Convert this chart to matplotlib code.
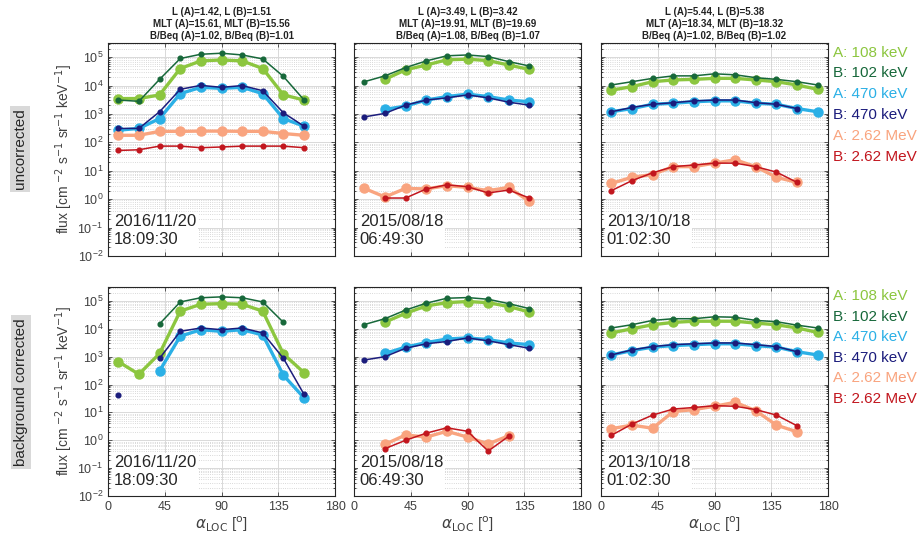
import matplotlib.pyplot as plt
import numpy as np
from matplotlib.ticker import LogLocator, NullFormatter, FixedLocator

plt.rcParams['font.family'] = ['Liberation Sans', 'DejaVu Sans']

nan = np.nan

# pitch angle bin centres (deg)
pa = [8.2, 24.5, 40.9, 57.3, 73.6, 90.0, 106.4, 122.7, 139.1, 155.5, 171.8]

labels = ['A: 108 keV', 'B: 102 keV', 'A: 470 keV', 'B: 470 keV',
          'A: 2.62 MeV', 'B: 2.62 MeV']
colors = ['#8cc63f', '#17683a', '#2bb0e6', '#1b1c7c', '#f9a47f', '#c2161e']

titles = ['L (A)=1.42, L (B)=1.51\nMLT (A)=15.61, MLT (B)=15.56\nB/Beq (A)=1.02, B/Beq (B)=1.01',
          'L (A)=3.49, L (B)=3.42\nMLT (A)=19.91, MLT (B)=19.69\nB/Beq (A)=1.08, B/Beq (B)=1.07',
          'L (A)=5.44, L (B)=5.38\nMLT (A)=18.34, MLT (B)=18.32\nB/Beq (A)=1.02, B/Beq (B)=1.02']
dates = ['2016/11/20\n18:09:30', '2015/08/18\n06:49:30', '2013/10/18\n01:02:30']
row_labels = ['uncorrected', 'background corrected']

# ---- uncorrected ----
unc1_a108 = [3500, 3500, 4700, 4.0e4, 7.4e4, 8.0e4, 7.4e4, 4.0e4, 4700, 3100, nan]
unc1_b102 = [3100, 2800, 1.66e4, 9.0e4, 1.27e5, 1.38e5, 1.2e5, 8.7e4, 2.1e4, 3100, nan]
unc1_a470 = [270, 310, 690, 5200, 8700, 8000, 8700, 5200, 690, 370, nan]
unc1_b470 = [310, 310, 1200, 7400, 1.02e4, 8700, 1.0e4, 6600, 1100, 370, nan]
unc1_a262 = [178, 178, 245, 245, 250, 250, 245, 245, 205, 178, nan]
unc1_b262 = [52, 55, 74, 74, 65, 69, 74, 74, 74, 65, nan]

unc2_a108 = [nan, 1.66e4, 3.6e4, 5.3e4, 8.1e4, 8.5e4, 7.6e4, 5.3e4, 3.7e4, nan, nan]
unc2_b102 = [1.37e4, 2.2e4, 4.3e4, 7.4e4, 1.12e5, 1.2e5, 1.05e5, 7.0e4, 4.9e4, nan, nan]
unc2_a470 = [nan, 1450, 1900, 3100, 4100, 5000, 4100, 3100, 2700, nan, nan]
unc2_b470 = [790, 1050, 2050, 3100, 3700, 4700, 3700, 2600, 2050, nan, nan]
unc2_a262 = [2.4, 1.2, 2.4, 2.3, 3.0, 2.6, 2.0, 2.6, 0.83, nan, nan]
unc2_b262 = [nan, 1.1, 1.1, 2.3, 3.2, 2.75, 1.66, 2.1, 1.1, nan, nan]

unc3_a108 = [6900, 9200, 1.37e4, 1.58e4, 1.66e4, 1.8e4, 1.8e4, 1.58e4, 1.37e4, 1.05e4, 7400]
unc3_b102 = [1.05e4, 1.37e4, 1.8e4, 2.2e4, 2.2e4, 2.6e4, 2.4e4, 1.9e4, 1.66e4, 1.37e4, 1.05e4]
unc3_a470 = [1200, 1550, 2200, 2400, 2700, 2900, 2900, 2400, 2200, 1550, 1200]
unc3_b470 = [1200, 1700, 2200, 2500, 2900, 3100, 3100, 2500, 2200, 1550, nan]
unc3_a262 = [3.6, 5.9, 7.4, 14, 14, 18.6, 24.5, 14, 5.9, 3.9, nan]
unc3_b262 = [2.0, 4.5, 8.5, 14, 16, 18.6, 18.6, 14, 9.0, 3.9, nan]

# ---- background corrected ----
cor1_a108 = [660, 235, 1300, 4.3e4, 7.6e4, 8.0e4, 7.6e4, 4.3e4, 1250, 265, nan]
cor1_b102 = [nan, nan, 1.5e4, 9.2e4, 1.3e5, 1.4e5, 1.3e5, 9.2e4, 1.7e4, nan, nan]
cor1_a470 = [nan, nan, 310, 5400, 9300, 8100, 9300, 6000, 215, 33, nan]
cor1_b470 = [41, nan, 870, 8100, 1.07e4, 9300, 1.07e4, 7100, 870, 44, nan]
cor1_a262 = [nan] * 11
cor1_b262 = [nan] * 11

cor2_a108 = [nan, 1.73e4, 3.6e4, 6.6e4, 8.7e4, 9.5e4, 8.7e4, 6.3e4, 4.0e4, nan, nan]
cor2_b102 = [1.42e4, 2.3e4, 4.7e4, 8.3e4, 1.25e5, 1.32e5, 1.15e5, 8.0e4, 5.3e4, nan, nan]
cor2_a470 = [nan, 1300, 2200, 3200, 4300, 4700, 4100, 3100, 2700, nan, nan]
cor2_b470 = [760, 1000, 2000, 2900, 3500, 4700, 3700, 2700, 2000, nan, nan]
cor2_a262 = [nan, 0.71, 1.55, 1.3, 2.1, 1.3, 0.74, 1.45, nan, nan, nan]
cor2_b262 = [nan, 0.5, 1.0, 1.8, 2.8, 2.1, 0.41, 1.4, nan, nan, nan]

cor3_a108 = [7100, 1.0e4, 1.4e4, 1.7e4, 1.87e4, 1.87e4, 1.87e4, 1.6e4, 1.4e4, 1.07e4, 7400]
cor3_b102 = [1.07e4, 1.4e4, 2.0e4, 2.3e4, 2.3e4, 2.7e4, 2.6e4, 2.0e4, 1.8e4, 1.35e4, 1.07e4]
cor3_a470 = [1150, 1650, 2200, 2500, 2700, 2900, 2900, 2500, 2200, 1500, 1150]
cor3_b470 = [1150, 1750, 2300, 2700, 2900, 3100, 3100, 2700, 2300, 1500, nan]
cor3_a262 = [2.6, 3.5, 2.7, 10.7, 12.6, 16.6, 23, 11.5, 3.5, 2.0, nan]
cor3_b262 = [1.5, 3.8, 8.0, 13.2, 15, 17.4, 16.6, 12.6, 8.0, 3.3, nan]

panels = [
    [[unc1_a108, unc1_b102, unc1_a470, unc1_b470, unc1_a262, unc1_b262],
     [unc2_a108, unc2_b102, unc2_a470, unc2_b470, unc2_a262, unc2_b262],
     [unc3_a108, unc3_b102, unc3_a470, unc3_b470, unc3_a262, unc3_b262]],
    [[cor1_a108, cor1_b102, cor1_a470, cor1_b470, cor1_a262, cor1_b262],
     [cor2_a108, cor2_b102, cor2_a470, cor2_b470, cor2_a262, cor2_b262],
     [cor3_a108, cor3_b102, cor3_a470, cor3_b470, cor3_a262, cor3_b262]],
]

fig = plt.figure(figsize=(9.22, 5.5), dpi=100)

lefts = [108 / 922, 354 / 922, 601 / 922]
width = 227 / 922
rows = [(1 - 256 / 550, 213 / 550), (1 - 496 / 550, 209 / 550)]
txtc = '#404040'

for r in range(2):
    for c in range(3):
        ax = fig.add_axes([lefts[c], rows[r][0], width, rows[r][1]])
        ax.set_yscale('log')
        ax.set_xlim(0, 180)
        ax.set_ylim(1e-2, 10 ** 5.5)
        ax.set_axisbelow(True)

        for k, ys in enumerate(panels[r][c]):
            if k % 2 == 0:  # detector A: thick line, big markers
                ax.plot(pa, ys, '-o', color=colors[k], lw=2.4, ms=6.5, zorder=2)
            else:
                ax.plot(pa, ys, '-o', color=colors[k], lw=1.1, ms=3.4, zorder=3)

        ax.xaxis.set_major_locator(FixedLocator([0, 45, 90, 135, 180]))
        ax.yaxis.set_major_locator(LogLocator(base=10, numticks=20))
        ax.yaxis.set_minor_locator(LogLocator(base=10, subs=np.arange(2, 10), numticks=20))
        ax.yaxis.set_minor_formatter(NullFormatter())
        ax.grid(True, which='major', color='#d9d9d9', lw=0.7)
        ax.grid(True, which='minor', axis='y', color='#cccccc', lw=0.6, ls=':')
        ax.tick_params(direction='in', top=True, right=True, labelsize=9,
                       colors=txtc, length=3, width=0.6)
        ax.tick_params(which='minor', direction='in', right=True, length=1.5, width=0.5)
        for s in ax.spines.values():
            s.set_color('#262626')
            s.set_linewidth(0.8)

        if c != 0:
            ax.set_yticklabels([])
        else:
            ax.set_ylabel('flux [cm $^{-2}$ s$^{-1}$ sr$^{-1}$ keV$^{-1}$]',
                          fontsize=10, color=txtc, labelpad=2)
        if r == 0:
            ax.set_xticklabels([])
            ax.set_title(titles[c], fontsize=7, fontweight='bold',
                         color='#222222', pad=3, linespacing=1.25)
        else:
            ax.set_xlabel(r'$\alpha_{\rm LOC}$ [$^{\rm o}$]', fontsize=11,
                          color=txtc, labelpad=1)

        ax.text(0.025, 0.04, dates[c], transform=ax.transAxes, fontsize=12,
                color='#262626', va='bottom', ha='left', linespacing=1.25, zorder=5,
                bbox=dict(facecolor='white', edgecolor='none', pad=1.5))

        if c == 2:
            for k, lab in enumerate(labels):
                ax.text(1.02, 0.955 - 0.098 * k, lab, transform=ax.transAxes,
                        fontsize=11, color=colors[k], va='center', ha='left')

fig.text(20 / 922, 1 - 149 / 550, row_labels[0], rotation=90, fontsize=11,
         color='#262626', ha='center', va='center',
         bbox=dict(facecolor='#d9d9d9', edgecolor='none', pad=2))
fig.text(21 / 922, 1 - 392 / 550, row_labels[1], rotation=90, fontsize=11,
         color='#262626', ha='center', va='center',
         bbox=dict(facecolor='#d9d9d9', edgecolor='none', pad=2))

fig.savefig('out.png', dpi=100)
